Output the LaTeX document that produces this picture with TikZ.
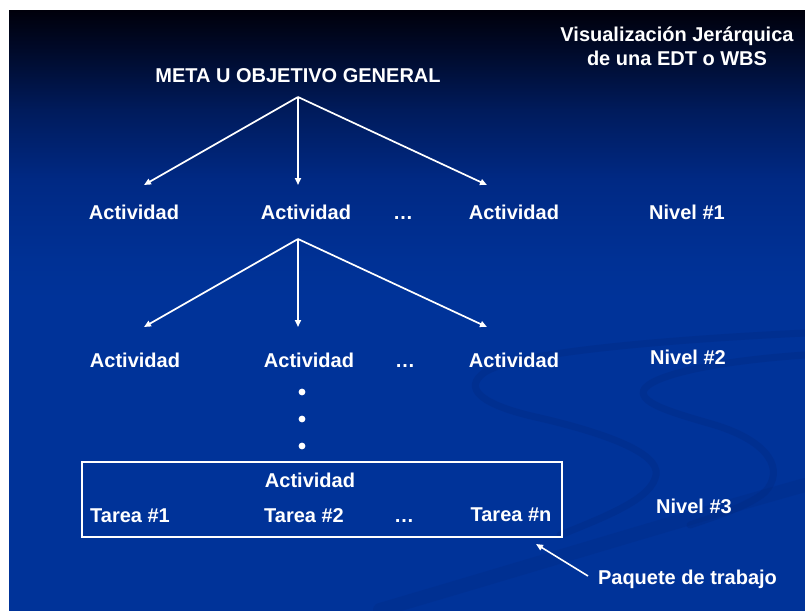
\documentclass[tikz,border=0pt]{standalone}
\usepackage{fontspec}
\setmainfont{Liberation Sans}
\usetikzlibrary{arrows.meta}

% slide colours
\definecolor{bgblue}{RGB}{0,51,153}
\definecolor{bgc0}{RGB}{0,0,12}
\definecolor{bgc1}{RGB}{0,10,42}
\definecolor{bgc2}{RGB}{0,27,92}
\definecolor{bgc3}{RGB}{0,41,132}
\definecolor{bgc4}{RGB}{0,49,149}
\definecolor{swooshblue}{RGB}{0,36,118}

% dark top fading into the slide blue
\pgfdeclareverticalshading{slidebg}{100bp}{%
  color(0bp)=(bgblue); color(50.9bp)=(bgblue); color(54.2bp)=(bgc4);
  color(60.9bp)=(bgc3); color(66.7bp)=(bgc2); color(71.7bp)=(bgc1);
  color(75bp)=(bgc0); color(100bp)=(bgc0)}

\begin{document}
\begin{tikzpicture}[x=1pt,y=-1pt,
  lbl/.style={text=white,font=\fontsize{20}{24}\selectfont\bfseries,
              inner sep=0pt,anchor=base},
  link/.style={draw=white,line width=1.7pt,
               -{Triangle[length=7pt,width=6pt]}},
  pointer/.style={draw=white,line width=1.6pt,
               -{Triangle[length=7pt,width=6pt]}},
  dotmark/.style={circle,fill=white,inner sep=0pt,minimum size=6.8pt},
  pkgbox/.style={draw=white,line width=2pt,inner sep=0pt,
                 minimum width=480pt,minimum height=75pt},
  swoosh/.style={draw=swooshblue,line width=7pt,opacity=0.25,line cap=round}]

\useasboundingbox (0,0) rectangle (805,610);
\fill[white] (0,0) rectangle (805,610);
\shade[shading=slidebg] (9,11) rectangle (805,610);

% decorative swirls of the slide background
\begin{scope}
  \clip (9,11) rectangle (805,610);
  \draw[swoosh] (805,333) .. controls (700,338) and (520,350) .. (485,372)
    .. controls (462,388) and (480,405) .. (540,418)
    .. controls (600,432) and (660,452) .. (656,475)
    .. controls (652,498) and (610,515) .. (560,535);
  \draw[swoosh] (805,355) .. controls (730,360) and (660,372) .. (645,388)
    .. controls (635,402) and (670,412) .. (715,425)
    .. controls (770,442) and (785,470) .. (765,492)
    .. controls (750,505) and (720,515) .. (690,525);
  \draw[swoosh,line width=14pt,opacity=0.18] (380,610)
    .. controls (550,560) and (680,520) .. (805,485);
\end{scope}

% titles
\node[lbl] (meta) at (298,82) {META U OBJETIVO GENERAL};
\node[lbl,align=center] (vis) at (677,65) {Visualización Jerárquica\\de una EDT o WBS};

% level 1
\node[lbl] (a11) at (134,219) {Actividad};
\node[lbl] (a12) at (306,219) {Actividad};
\node[lbl] (d1)  at (403,219) {…};
\node[lbl] (a13) at (514,219) {Actividad};
\node[lbl] (n1)  at (687,219) {Nivel \#1};

% level 2
\node[lbl] (a21) at (135,367) {Actividad};
\node[lbl] (a22) at (309,367) {Actividad};
\node[lbl] (d2)  at (405,367) {…};
\node[lbl] (a23) at (514,367) {Actividad};
\node[lbl] (n2)  at (688,364) {Nivel \#2};

% vertical ellipsis
\node[dotmark] (v1) at (302,392) {};
\node[dotmark] (v2) at (302,419) {};
\node[dotmark] (v3) at (302,446) {};

% work package (level 3)
\node[pkgbox] (pkg) at (322,499.5) {};
\node[lbl] (act) at (310,487) {Actividad};
\node[lbl] (t1)  at (130,522) {Tarea \#1};
\node[lbl] (t2)  at (304,522) {Tarea \#2};
\node[lbl] (d3)  at (404,522) {…};
\node[lbl] (tn)  at (511,521) {Tarea \#n};
\node[lbl] (n3)  at (694,513) {Nivel \#3};
\node[lbl] (paq) at (687.5,584) {Paquete de trabajo};

% branching points and arrow ends
\coordinate (r1)  at (298,97);
\coordinate (e11) at (144,185);
\coordinate (e12) at (298,185);
\coordinate (e13) at (487,185);
\coordinate (r2)  at (298,239);
\coordinate (e21) at (144,327);
\coordinate (e22) at (298,327);
\coordinate (e23) at (487,327);
\coordinate (ptail) at (588,576);
\coordinate (ptip)  at (536,544);

\draw[link] (r1) -- (e11);
\draw[link] (r1) -- (e12);
\draw[link] (r1) -- (e13);
\draw[link] (r2) -- (e21);
\draw[link] (r2) -- (e22);
\draw[link] (r2) -- (e23);
\draw[pointer] (ptail) -- (ptip);

\end{tikzpicture}
\end{document}
